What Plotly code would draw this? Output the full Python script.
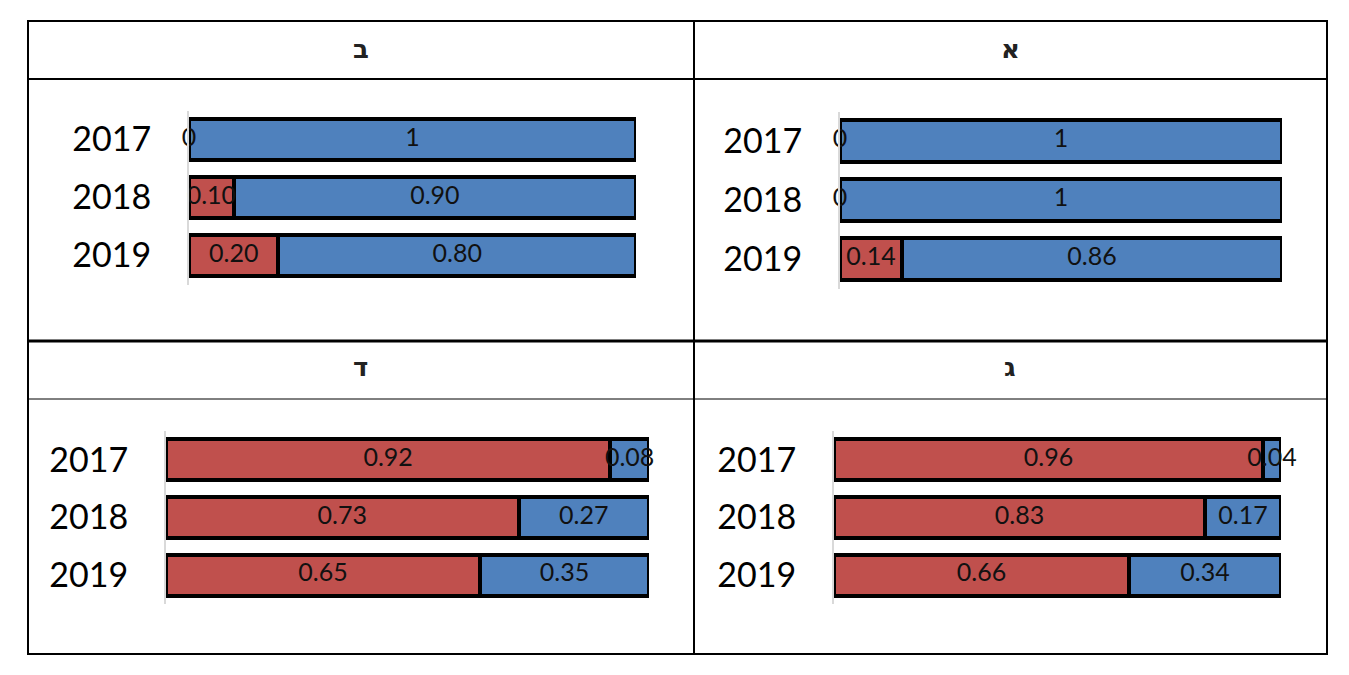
import plotly.graph_objects as go

W, H = 1349, 675

years = ['2017', '2018', '2019']

# panel letters and the two shares per year (red = first, blue = second)
panel_names = ['א', 'ב', 'ג', 'ד']
red_alef = [0, 0, 0.14]
blue_alef = [1, 1, 0.86]
red_bet = [0, 0.10, 0.20]
blue_bet = [1, 0.90, 0.80]
red_gimel = [0.96, 0.83, 0.66]
blue_gimel = [0.04, 0.17, 0.34]
red_dalet = [0.92, 0.73, 0.65]
blue_dalet = [0.08, 0.27, 0.35]

RED = '#C0504D'
BLUE = '#4F81BD'


def px_x(x):
    return x / W


def px_y(y):
    return 1 - y / H


def fmt(v):
    if v == 0:
        return '0'
    if v == 1:
        return '1'
    return '%.2f' % v


# pixel boxes of each plot area: (left, right, top, bottom)
panels = [
    ('א', red_alef, blue_alef, (840, 1282, 111.5, 288.5)),
    ('ב', red_bet, blue_bet, (189, 636, 110.5, 284.5)),
    ('ג', red_gimel, blue_gimel, (834, 1281, 431, 604)),
    ('ד', red_dalet, blue_dalet, (166, 649, 431, 604)),
]

fig = go.Figure()
layout_axes = {}

for i, (name, red, blue, box) in enumerate(panels):
    n = '' if i == 0 else str(i + 1)
    xa, ya = 'x' + n, 'y' + n
    fig.add_trace(go.Bar(
        y=years, x=red, orientation='h', xaxis=xa, yaxis=ya,
        marker=dict(color=RED, line=dict(color='black', width=4)),
        showlegend=False, hoverinfo='x'))
    fig.add_trace(go.Bar(
        y=years, x=blue, orientation='h', xaxis=xa, yaxis=ya,
        marker=dict(color=BLUE, line=dict(color='black', width=4)),
        showlegend=False, hoverinfo='x'))
    # labels centred in each segment
    red_mid = [r / 2 for r in red]
    blue_mid = [r + b / 2 for r, b in zip(red, blue)]
    fig.add_trace(go.Scatter(
        y=years + years, x=red_mid + blue_mid, mode='text',
        text=[fmt(v) for v in red] + [fmt(v) for v in blue],
        textfont=dict(family='Lato', size=25, color='#111111'),
        xaxis=xa, yaxis=ya, cliponaxis=False, showlegend=False,
        hoverinfo='skip'))

    l, r, t, b = box
    layout_axes['xaxis' + n] = dict(
        domain=[px_x(l), px_x(r)], range=[0, 1], visible=False,
        anchor=ya, fixedrange=True)
    layout_axes['yaxis' + n] = dict(
        domain=[px_y(b), px_y(t)], anchor=xa, type='category',
        autorange='reversed', showline=True, linecolor='#D9D9D9',
        linewidth=2, showgrid=False, zeroline=False, ticks='',
        ticklabelstandoff=29,
        tickfont=dict(family='Lato', size=34, color='black'),
        fixedrange=True)

# table grid
shapes = []


def hline(y, x0, x1, w):
    shapes.append(dict(type='line', xref='paper', yref='paper',
                       x0=px_x(x0), x1=px_x(x1), y0=px_y(y), y1=px_y(y),
                       line=dict(color='black', width=w)))


def vline(x, y0, y1, w):
    shapes.append(dict(type='line', xref='paper', yref='paper',
                       x0=px_x(x), x1=px_x(x), y0=px_y(y0), y1=px_y(y1),
                       line=dict(color='black', width=w)))


hline(21, 27, 1328, 2)
hline(79, 27, 1328, 2)
hline(341, 27, 1328, 3)
hline(399, 27, 1328, 1)
hline(654, 27, 1328, 2)
vline(28, 20, 655, 2)
vline(694, 20, 655, 2)
vline(1327, 20, 655, 2)

# header letters
header_pos = [(1010, 49), (361, 49), (1010, 367), (361, 367)]
annotations = []
for name, (hx, hy) in zip(panel_names, header_pos):
    annotations.append(dict(
        x=px_x(hx), y=px_y(hy), xref='paper', yref='paper', text=name,
        showarrow=False, xanchor='center', yanchor='middle',
        font=dict(family='DejaVu Sans', size=26, color='#222222',
                  weight='bold')))

fig.update_layout(
    width=W, height=H, margin=dict(l=0, r=0, t=0, b=0),
    paper_bgcolor='white', plot_bgcolor='white',
    barmode='stack', bargap=0.29,
    shapes=shapes, annotations=annotations,
    **layout_axes)

fig.write_html("out.html", config={'displayModeBar': False},
               post_script="document.body.style.margin='0';")
